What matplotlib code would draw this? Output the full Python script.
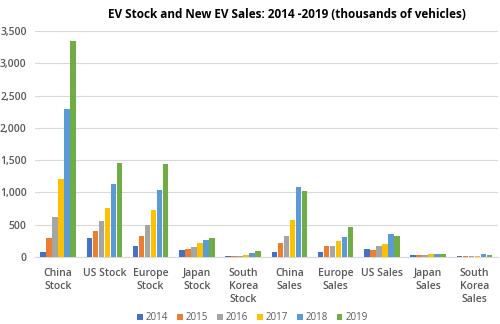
import matplotlib
matplotlib.use("Agg")
import matplotlib.pyplot as plt
import numpy as np
from matplotlib.ticker import FuncFormatter

categories = ["China\nStock", "US Stock", "Europe\nStock", "Japan\nStock", "South\nKorea\nStock",
              "China\nSales", "Europe\nSales", "US Sales", "Japan\nSales", "South\nKorea\nSales"]
years = ["2014", "2015", "2016", "2017", "2018", "2019"]
v2014 = [80, 290, 170, 100, 15, 75, 75, 120, 25, 12]
v2015 = [300, 400, 330, 120, 15, 210, 165, 115, 25, 12]
v2016 = [620, 560, 500, 150, 15, 330, 175, 165, 25, 12]
v2017 = [1210, 760, 720, 210, 25, 580, 240, 200, 50, 15]
v2018 = [2290, 1130, 1030, 260, 60, 1080, 310, 360, 50, 40]
v2019 = [3350, 1450, 1440, 290, 90, 1020, 460, 325, 40, 30]
series = [v2014, v2015, v2016, v2017, v2018, v2019]
colors = ["#4472C4", "#ED7D31", "#A5A5A5", "#FFC000", "#5B9BD5", "#70AD47"]

plt.rcParams['font.family'] = ['Open Sans', 'DejaVu Sans']
fig = plt.figure(figsize=(5.0, 3.24), dpi=100)
ax = fig.add_axes([0.07, 0.207, 0.925, 0.697])

x = np.arange(len(categories))
bw = 0.13
for i, (vals, c, y) in enumerate(zip(series, colors, years)):
    ax.bar(x + (i - 2.5) * bw, vals, width=bw * 0.9, color=c, label=y, zorder=3)

ax.set_xlim(-0.5, len(categories) - 0.5)
ax.set_ylim(0, 3500)
ax.set_yticks(np.arange(0, 3501, 500))
ax.yaxis.set_major_formatter(FuncFormatter(lambda v, p: f"{int(v):,}"))
ax.set_xticks(x)
ax.set_xticklabels(categories, linespacing=1.25)
ax.grid(axis="y", color="#D9D9D9", linewidth=0.8, zorder=0)
for s in ["top", "right", "left"]:
    ax.spines[s].set_visible(False)
ax.spines["bottom"].set_color("#D9D9D9")
ax.tick_params(axis="both", length=0, colors="#595959", labelsize=7.5)
ax.tick_params(axis="x", pad=8)
ax.tick_params(axis="y", pad=6)
for lbl in ax.get_xticklabels() + ax.get_yticklabels():
    lbl.set_fontweight("semibold")

fig.text(0.573, 0.975, "EV Stock and New EV Sales: 2014 -2019 (thousands of vehicles)",
         ha="center", va="top", fontsize=8.5, fontweight="bold", color="#000000")

leg = fig.legend(loc="lower center", bbox_to_anchor=(0.505, -0.025), ncol=6, frameon=False,
                 fontsize=7, handlelength=0.6, handleheight=0.6, handletextpad=0.3,
                 columnspacing=0.9)
for t in leg.get_texts():
    t.set_color("#595959")

fig.savefig("out.png", dpi=100)
